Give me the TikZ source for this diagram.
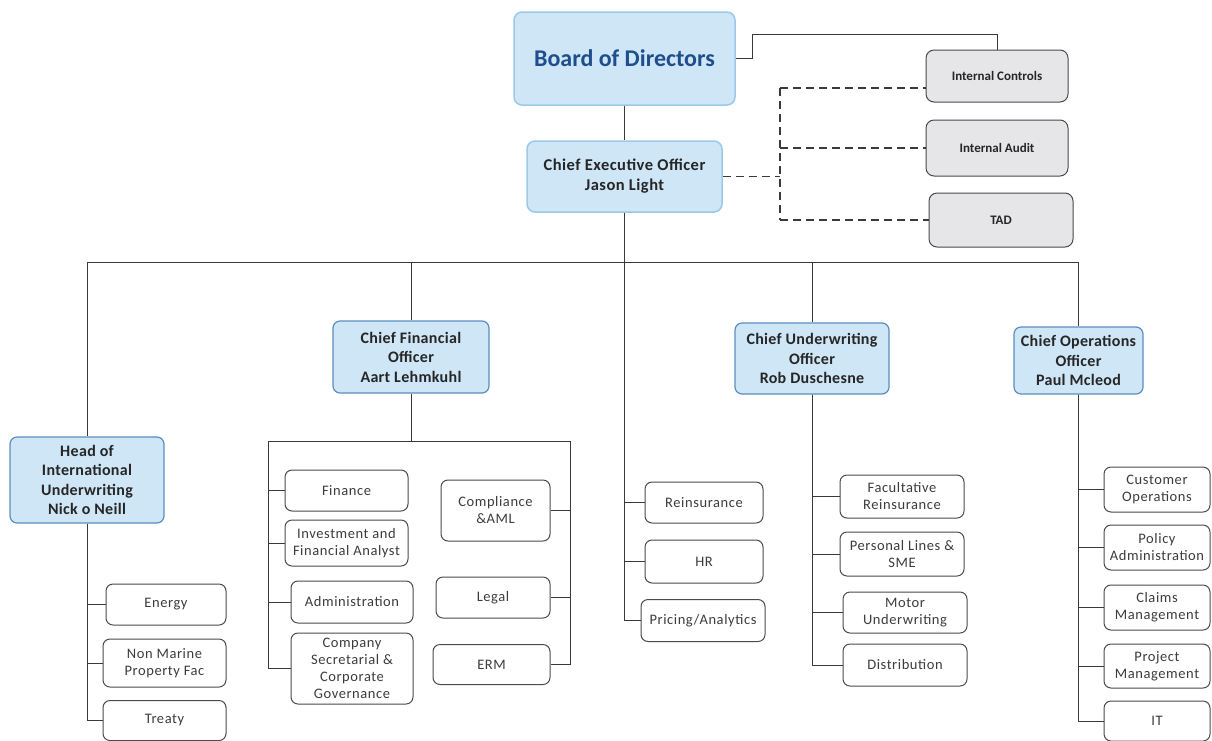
\documentclass[tikz,border=0pt]{standalone}
\usepackage{fontspec}
\setmainfont{Carlito}
\newfontfamily\subfont[LetterSpace=4]{Carlito}
\newfontfamily\hdrfont[LetterSpace=2]{Carlito}
\newfontfamily\ceofont[LetterSpace=3]{Carlito}
\definecolor{lineC}{HTML}{3A3A3A}
\definecolor{subC}{HTML}{4A4A4A}
\definecolor{txtC}{HTML}{3C3C3C}
\definecolor{hdrC}{HTML}{5B8DBE}
\definecolor{hdrF}{HTML}{CFE6F6}
\definecolor{hdrT}{HTML}{262626}
\definecolor{brdC}{HTML}{9CC9EA}
\definecolor{brdT}{HTML}{1F4E8C}
\definecolor{grayF}{HTML}{E6E6E9}
\begin{document}
\begin{tikzpicture}[x=1pt,y=-1pt,
  conn/.style={draw=lineC, line width=0.9pt},
  dconn/.style={draw=lineC, line width=1.4pt, dash pattern=on 8pt off 5pt},
  sub/.style={draw=subC, line width=1pt, fill=white, rounded corners=7pt, align=center,
    font=\subfont\fontsize{14.5}{17}\selectfont, text=txtC, inner sep=1pt},
  hdr/.style={draw=hdrC, line width=1.2pt, fill=hdrF, rounded corners=7pt, align=center,
    font=\hdrfont\bfseries\fontsize{16}{19.5}\selectfont, text=hdrT, inner sep=1pt},
  topbox/.style={draw=brdC, line width=1.5pt, fill=hdrF, rounded corners=8pt, align=center, inner sep=1pt},
  gbox/.style={draw=subC, line width=1pt, fill=grayF, rounded corners=8pt, align=center,
    font=\bfseries\fontsize{13}{15}\selectfont, text=hdrT, inner sep=1pt}
]
\useasboundingbox (0,0) rectangle (1212,740);

% top level
\node[topbox, minimum width=221pt, minimum height=93pt, font=\bfseries\fontsize{24}{26}\selectfont, text=brdT] (board) at (624.5,58.5) {Board of Directors};
\node[topbox, minimum width=195pt, minimum height=71pt, font=\ceofont\bfseries\fontsize{16.5}{20}\selectfont, text=hdrT] (ceo) at (624.5,176.5) {Chief Executive Officer\\Jason Light};

\node[gbox, minimum width=142pt, minimum height=52pt] (ic) at (997,76) {Internal Controls};
\node[gbox, minimum width=142pt, minimum height=56pt] (ia) at (997,148) {Internal Audit};
\node[gbox, minimum width=144pt, minimum height=54pt] (tad) at (1001,220) {TAD};

% second level
\node[hdr, minimum width=154pt, minimum height=86pt] (hiu) at (87,480) {Head of\\International\\Underwriting\\Nick o Neill};
\node[hdr, minimum width=156pt, minimum height=72pt] (cfo) at (411,357) {Chief Financial\\Officer\\Aart Lehmkuhl};
\node[hdr, minimum width=154pt, minimum height=71pt] (cuo) at (812,358.5) {Chief Underwriting\\Officer\\Rob Duschesne};
\node[hdr, minimum width=129pt, minimum height=67pt] (coo) at (1078.5,360.5) {Chief Operations\\Officer\\Paul Mcleod};

% Head of International Underwriting
\node[sub, minimum width=120pt, minimum height=41pt] (energy) at (166,604.5) {Energy};
\node[sub, minimum width=123pt, minimum height=48pt] (nmp) at (164.5,663) {Non Marine\\Property Fac};
\node[sub, minimum width=123pt, minimum height=40pt] (treaty) at (164.5,720.5) {Treaty};

% CFO
\node[sub, minimum width=123pt, minimum height=41pt] (fin) at (346.5,490.5) {Finance};
\node[sub, minimum width=123pt, minimum height=46pt] (inv) at (346.5,543) {Investment and\\Financial Analyst};
\node[sub, minimum width=122pt, minimum height=42pt] (adm) at (352,602) {Administration};
\node[sub, minimum width=122pt, minimum height=71pt] (csec) at (352,668.5) {Company\\Secretarial \&\\Corporate\\Governance};
\node[sub, minimum width=109pt, minimum height=61pt] (comp) at (495.5,510.5) {Compliance\\\&AML};
\node[sub, minimum width=114pt, minimum height=41pt] (legal) at (493,597.5) {Legal};
\node[sub, minimum width=117pt, minimum height=40pt] (erm) at (491.5,664.5) {ERM};

% CEO direct column
\node[sub, minimum width=118pt, minimum height=41pt] (rein) at (704,502.5) {Reinsurance};
\node[sub, minimum width=118pt, minimum height=43pt] (hr) at (704,561.5) {HR};
\node[sub, minimum width=124pt, minimum height=42pt] (pric) at (703,620.5) {Pricing/Analytics};

% CUO
\node[sub, minimum width=124pt, minimum height=43pt] (fac) at (902,496.5) {Facultative\\Reinsurance};
\node[sub, minimum width=124pt, minimum height=44pt] (pl) at (902,554) {Personal Lines \&\\SME};
\node[sub, minimum width=124pt, minimum height=41pt] (mot) at (905,612.5) {Motor\\Underwriting};
\node[sub, minimum width=124pt, minimum height=42pt] (dist) at (905,665) {Distribution};

% COO
\node[sub, minimum width=106pt, minimum height=45pt] (cust) at (1157,489.5) {Customer\\Operations};
\node[sub, minimum width=106pt, minimum height=45pt] (pol) at (1157,547.5) {Policy\\Administration};
\node[sub, minimum width=106pt, minimum height=45pt] (clm) at (1157,607.5) {Claims\\Management};
\node[sub, minimum width=106pt, minimum height=44pt] (prj) at (1157,666) {Project\\Management};
\node[sub, minimum width=106pt, minimum height=40pt] (it) at (1157,721) {IT};

% connectors: top
\coordinate (bj1) at (752,58.5);
\coordinate (bj2) at (752,34);
\coordinate (bj3) at (997,34);
\draw[conn] (board.south) -- (ceo.north);
\draw[conn] (board.east) -- (bj1) -- (bj2) -- (bj3) -- (ic.north);

\coordinate (dtop) at (780,88);
\coordinate (dbot) at (780,220);
\draw[dconn] (ceo.east) -- (ceo.east -| dtop);
\draw[dconn] (dtop) -- (dbot);
\draw[dconn] (dtop) -- (dtop -| ic.west);
\draw[dconn] (ia.west -| dtop) -- (ia.west);
\draw[dconn] (dbot) -- (tad.west);

% main bus
\coordinate (busL) at (87,262);
\coordinate (busR) at (1078.5,262);
\draw[conn] (busL) -- (busR);
\draw[conn] (busL) -- (hiu.north);
\draw[conn] (cfo.north |- busL) -- (cfo.north);
\draw[conn] (cuo.north |- busL) -- (cuo.north);
\draw[conn] (busR) -- (coo.north);
\draw[conn] (ceo.south) |- (rein.west);
\draw[conn] (ceo.south) |- (hr.west);
\draw[conn] (ceo.south) |- (pric.west);

% Head of Intl
\draw[conn] (hiu.south) |- (energy.west);
\draw[conn] (hiu.south) |- (nmp.west);
\draw[conn] (hiu.south) |- (treaty.west);

% CFO
\coordinate (cfoB) at (411,441);
\coordinate (cfoBL) at (268,441);
\coordinate (cfoBR) at (570,441);
\draw[conn] (cfo.south) -- (cfoB);
\draw[conn] (cfoBL) -- (cfoBR);
\draw[conn] (cfoBL) |- (fin.west);
\draw[conn] (cfoBL) |- (inv.west);
\draw[conn] (cfoBL) |- (adm.west);
\draw[conn] (cfoBL) |- (csec.west);
\draw[conn] (cfoBR) |- (comp.east);
\draw[conn] (cfoBR) |- (legal.east);
\draw[conn] (cfoBR) |- (erm.east);

% CUO
\draw[conn] (cuo.south) |- (fac.west);
\draw[conn] (cuo.south) |- (pl.west);
\draw[conn] (cuo.south) |- (mot.west);
\draw[conn] (cuo.south) |- (dist.west);

% COO
\draw[conn] (coo.south) |- (cust.west);
\draw[conn] (coo.south) |- (pol.west);
\draw[conn] (coo.south) |- (clm.west);
\draw[conn] (coo.south) |- (prj.west);
\draw[conn] (coo.south) |- (it.west);
\end{tikzpicture}
\end{document}
